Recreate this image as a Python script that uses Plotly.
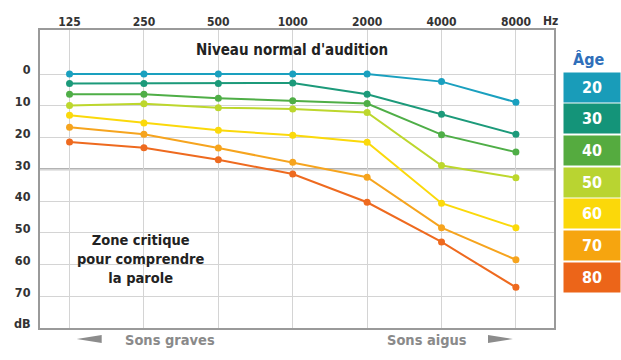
import plotly.graph_objects as go

freqs = [125, 250, 500, 1000, 2000, 4000, 8000]
freq_labels = ["125", "250", "500", "1000", "2000", "4000", "8000"]
ages = ["20", "30", "40", "50", "60", "70", "80"]
loss_20 = [0, 0, 0, 0, 0, 2.4, 8.9]
loss_30 = [3, 3, 3, 2.8, 6.4, 12.7, 19.0]
loss_40 = [6.4, 6.4, 7.6, 8.4, 9.3, 19.1, 24.6]
loss_50 = [9.9, 9.4, 10.6, 11.0, 12.1, 28.8, 32.7]
loss_60 = [13.0, 15.4, 17.7, 19.3, 21.5, 40.7, 48.4]
loss_70 = [16.8, 19.0, 23.3, 27.8, 32.5, 48.4, 58.5]
loss_80 = [21.4, 23.2, 27.0, 31.5, 40.4, 52.9, 67.2]
db_ticks = [0, 10, 20, 30, 40, 50, 60, 70, 80]
db_labels = ["0", "10", "20", "30", "40", "50", "60", "70", "dB"]

series = [loss_20, loss_30, loss_40, loss_50, loss_60, loss_70, loss_80]
line_colors = ["#1aa0bf", "#1c9a7a", "#4fae47", "#bdd72d", "#fbd90b", "#f6a41e", "#ee6a1f"]
box_colors = ["#199cb9", "#149479", "#55ab3f", "#b9d431", "#fbd80a", "#f6a50f", "#ec6519"]

FONT = "Liberation Sans Narrow, DejaVu Sans Condensed, Roboto, sans-serif"

fig = go.Figure()
for age, vals, col in zip(ages, series, line_colors):
    fig.add_trace(go.Scatter(
        x=freqs, y=vals, mode="lines+markers", name=age,
        line=dict(color=col, width=2),
        marker=dict(color=col, size=7),
        showlegend=False,
    ))

fig.update_layout(
    width=621, height=360,
    margin=dict(l=40, r=67, t=30, b=32, autoexpand=False),
    paper_bgcolor="white", plot_bgcolor="white",
    font=dict(family=FONT, color="#333"),
)
fig.update_xaxes(
    type="log", side="top", range=[1.9774, 4.0572],
    tickvals=freqs, ticktext=freq_labels,
    tickfont=dict(family=FONT, size=12, color="#333", weight="bold"),
    showgrid=True, gridcolor="#d4d4d4", gridwidth=1,
    showline=True, mirror=True, linecolor="#9a9a9a", linewidth=2,
    ticks="", zeroline=False, ticklabelstandoff=-3,
)
fig.update_yaxes(
    range=[80, -13.86], tickvals=db_ticks, ticktext=db_labels,
    tickfont=dict(family=FONT, size=12.5, color="#333", weight="bold"),
    showgrid=True, gridcolor="#d4d4d4", gridwidth=1,
    showline=True, mirror=True, linecolor="#9a9a9a", linewidth=2,
    ticks="", zeroline=False, ticklabelstandoff=5, ticklabelshift=4,
)

# critical threshold line at 30 dB
fig.add_shape(type="line", xref="paper", yref="y", x0=0, x1=1, y0=30, y1=30,
              line=dict(color="#9a9a9a", width=2), layer="below")

def note(text, x, y, size, color, **kw):
    fig.add_annotation(text=text, xref="paper", yref="paper", x=x, y=y,
                       xanchor="center", yanchor="middle", showarrow=False,
                       font=dict(family=FONT, size=size, color=color), **kw)

note("<b>Niveau normal d'audition</b>", (292 - 40) / 514, (328 - 50) / 298, 15, "#222")
note("<b>Zone critique<br>pour comprendre<br>la parole</b>", (140.5 - 40) / 514,
     (328 - 258.5) / 298, 14.5, "#222", align="center")
note("<b>Hz</b>", (550 - 40) / 514, (328 - 21) / 298, 12, "#333")
note("<b>Sons graves</b>", (169.5 - 40) / 514, (328 - 340) / 298, 14.5, "#8a8a8a")
note("<b>Sons aigus</b>", (426.7 - 40) / 514, (328 - 340) / 298, 14.5, "#8a8a8a")

# arrows
fig.add_shape(type="path", xref="paper", yref="paper",
              path="M 0.0714 -0.0369 L 0.120 -0.0235 L 0.120 -0.0503 Z",
              fillcolor="#8c8c8c", line=dict(width=0))
fig.add_shape(type="path", xref="paper", yref="paper",
              path="M 0.9202 -0.0369 L 0.8716 -0.0235 L 0.8716 -0.0503 Z",
              fillcolor="#8c8c8c", line=dict(width=0))

# age legend
note("<b>Âge</b>", (588 - 40) / 514, (328 - 60) / 298, 16, "#2f6fba")
box_centers = [87.5, 119, 150.5, 182.3, 213.7, 245.3, 277.3]
for age, col, cy in zip(ages, box_colors, box_centers):
    note("<b>" + age + "</b>", (591.5 - 40) / 514, (328 - cy) / 298, 16, "white",
         width=56, height=29, bgcolor=col, borderpad=0)

fig.write_html("out.html", config={"displayModeBar": False},
               post_script="document.body.style.margin='0';")
